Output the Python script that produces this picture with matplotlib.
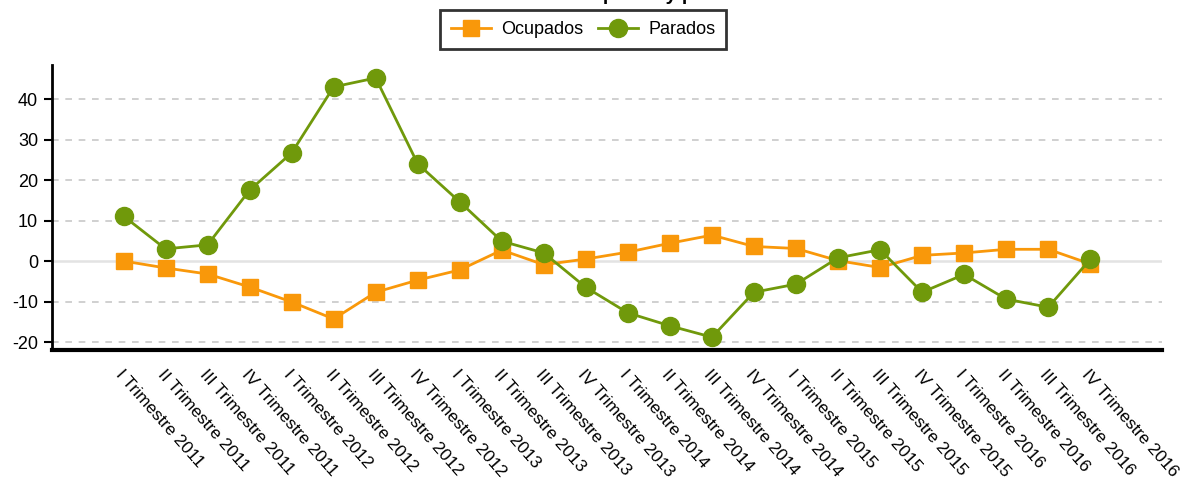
import matplotlib
matplotlib.use("Agg")
import matplotlib.pyplot as plt
import matplotlib.transforms as mtransforms

plt.rcParams['font.family'] = ['Liberation Sans', 'DejaVu Sans']

categories = [
    "I Trimestre 2011", "II Trimestre 2011", "III Trimestre 2011", "IV Trimestre 2011",
    "I Trimestre 2012", "II Trimestre 2012", "III Trimestre 2012", "IV Trimestre 2012",
    "I Trimestre 2013", "II Trimestre 2013", "III Trimestre 2013", "IV Trimestre 2013",
    "I Trimestre 2014", "II Trimestre 2014", "III Trimestre 2014", "IV Trimestre 2014",
    "I Trimestre 2015", "II Trimestre 2015", "III Trimestre 2015", "IV Trimestre 2015",
    "I Trimestre 2016", "II Trimestre 2016", "III Trimestre 2016", "IV Trimestre 2016",
]
ocupados = [0.0, -1.7, -3.2, -6.4, -10.1, -14.3, -7.7, -4.7, -2.2, 2.7, -0.9, 0.5,
            2.2, 4.4, 6.4, 3.6, 3.1, 0.1, -1.6, 1.4, 2.0, 2.9, 2.9, -0.7]
parados = [11.1, 3.0, 4.0, 17.5, 26.7, 43.0, 45.2, 24.0, 14.6, 4.9, 2.0, -6.5,
           -12.8, -16.0, -18.8, -7.7, -5.7, 0.8, 2.8, -7.7, -3.3, -9.4, -11.4, 0.4]
yticks = [-20, -10, 0, 10, 20, 30, 40]
title = "Variación de ocupados y parados"

c_ocu = '#F9980A'
c_par = '#70990B'

fig = plt.figure(figsize=(11.83, 4.87), dpi=100)
ax = fig.add_axes([0.044, 0.281, 0.938, 0.5855])

x = list(range(len(categories)))
ax.plot(x, ocupados, color=c_ocu, lw=2, marker='s', markersize=12,
        markeredgecolor=c_ocu, label='Ocupados', zorder=3)
ax.plot(x, parados, color=c_par, lw=2, marker='o', markersize=13,
        markeredgecolor=c_par, label='Parados', zorder=4)

ax.set_xlim(-1.7, 24.7)
ax.set_ylim(-22, 48.4)
ax.set_yticks(yticks)
ax.set_yticklabels([str(v) for v in yticks], fontsize=13)

for v in yticks:
    if v == 0:
        ax.axhline(v, color='#e3e3e3', lw=1.8, zorder=1)
    else:
        ax.axhline(v, color='#c8c8c8', lw=1.2, ls=(0, (4, 4)), zorder=1)

ax.set_xticks(x)
ax.set_xticklabels(categories, fontsize=12.5, rotation=-48.5, ha='left', va='top',
                   rotation_mode='anchor')
offset = mtransforms.ScaledTranslation(-17 / 100, 5 / 100, fig.dpi_scale_trans)
for lbl in ax.get_xticklabels():
    lbl.set_transform(lbl.get_transform() + offset)
ax.tick_params(axis='x', length=0, pad=12)
ax.tick_params(axis='y', length=6, width=1.5, color='black', pad=4)

for s in ['top', 'right']:
    ax.spines[s].set_visible(False)
ax.spines['left'].set_linewidth(2)
ax.spines['bottom'].set_linewidth(3)

leg = fig.legend(loc='upper center', bbox_to_anchor=(0.493, 0.979), ncol=2,
                 fontsize=13, frameon=True, fancybox=False, edgecolor='black',
                 handlelength=2.2, columnspacing=0.85, borderpad=0.6,
                 handletextpad=0.55, borderaxespad=0)
leg.get_frame().set_linewidth(2)

fig.text(0.51, 1.0, title, ha='center', va='baseline', fontsize=14,
         fontweight='bold')

fig.savefig('out.png', dpi=100)
